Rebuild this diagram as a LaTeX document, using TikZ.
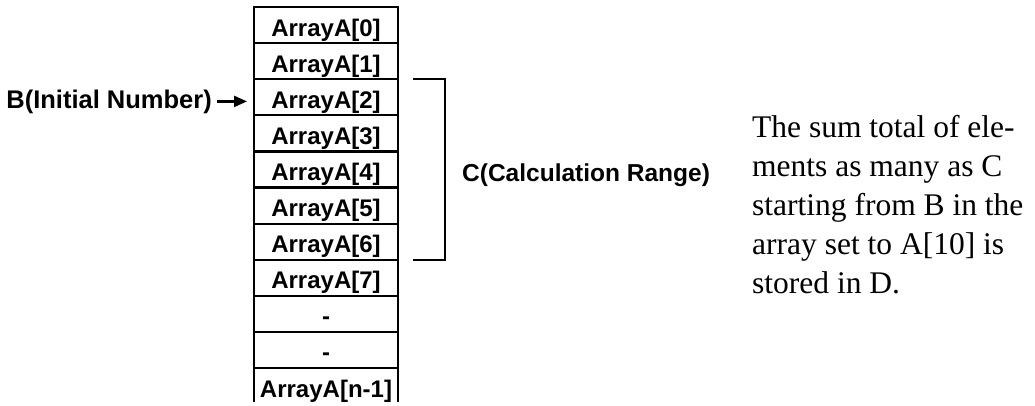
\documentclass[tikz,border=0pt]{standalone}
\usepackage{fontspec}
\setmainfont{Liberation Serif}
\setsansfont{Liberation Sans}
\usetikzlibrary{arrows.meta,positioning}

\tikzset{
  cell/.style={draw, line width=2.2pt, minimum width=144pt, minimum height=36.1pt,
    inner sep=0pt, outer sep=0pt, text height=24pt, text depth=2pt,
    font=\sffamily\bfseries\fontsize{24}{28}\selectfont},
  lbl/.style={inner sep=0pt, font=\sffamily\bfseries\fontsize{24.5}{28}\selectfont},
  note/.style={inner sep=0pt, anchor=base west, font=\fontsize{31.5}{39}\selectfont},
  conn/.style={line width=2.2pt},
}

\begin{document}
\begin{tikzpicture}[x=1pt, y=-1pt]
\useasboundingbox (0,0) rectangle (1035,405);

% Array cells
\node[cell] (cell0) at (326,25.05) {ArrayA[0]};
\node[cell, below=0pt of cell0] (cell1) {ArrayA[1]};
\node[cell, below=0pt of cell1] (cell2) {ArrayA[2]};
\node[cell, below=0pt of cell2] (cell3) {ArrayA[3]};
\node[cell, below=0pt of cell3] (cell4) {ArrayA[4]};
\node[cell, below=0pt of cell4] (cell5) {ArrayA[5]};
\node[cell, below=0pt of cell5] (cell6) {ArrayA[6]};
\node[cell, below=0pt of cell6] (cell7) {ArrayA[7]};
\node[cell, below=0pt of cell7] (cell8) {-};
\node[cell, below=0pt of cell8] (cell9) {-};
\node[cell, draw=none, below=0pt of cell9] (cell10) {ArrayA[n-1]};
\draw[conn] ([yshift=2pt]cell10.south west) -- (cell10.north west)
  (cell10.north east) -- ([yshift=2pt]cell10.south east);

% B with arrow
\node[lbl, font=\sffamily\bfseries\fontsize{25.5}{28}\selectfont, anchor=base east]
  (initial) at (212,108) {B(Initial Number)};
\draw[conn, -{Triangle[length=13pt,width=11pt]}, shorten <=5pt, shorten >=7pt]
  (initial.east) -- (initial.east -| cell2.west);

% Range bracket
\coordinate (brtop) at ([xshift=15pt]cell1.south east);
\coordinate (brbot) at ([xshift=15pt]cell6.south east);
\draw[conn] (brtop) -- ++(32,0) |- (brbot);
\node[lbl, anchor=base west] (range) at (462,181) {C(Calculation Range)};

% Explanation
\node[note] (note1) at (752,137) {The sum total of ele-};
\node[note] (note2) at (752,176) {ments as many as C};
\node[note] (note3) at (752,215) {starting from B in the};
\node[note] (note4) at (752,254) {array set to A[10] is};
\node[note] (note5) at (752,293) {stored in D.};

\end{tikzpicture}
\end{document}
